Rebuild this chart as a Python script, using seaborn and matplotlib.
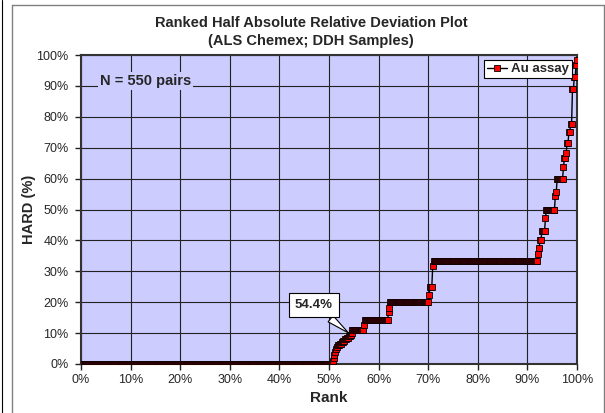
import numpy as np
import pandas as pd
import matplotlib
matplotlib.use("Agg")
import matplotlib.pyplot as plt
from matplotlib.ticker import PercentFormatter, MultipleLocator
from matplotlib.lines import Line2D
import seaborn as sns

hard_levels = [0.0, 1.0, 2.0, 3.0, 4.0, 5.0, 5.5, 6.0, 6.5, 7.0, 7.5, 8.0, 8.5, 9.0, 9.5, 10.0,
               11.1, 12.5, 14.3, 16.7, 18.2, 20.0, 22.2, 25.0, 31.6, 33.3,
               35.7, 37.5, 40.0, 42.9, 47.1, 50.0, 54.5, 55.6, 60.0, 63.6, 66.7, 68.4,
               71.4, 75.0, 77.8, 88.9, 92.9, 96.7, 98.4]
level_counts = [278, 1, 1, 1, 1, 1, 1, 2, 2, 2, 2, 2, 2, 2, 1, 1,
                13, 1, 26, 1, 1, 43, 1, 3, 1, 116,
                1, 1, 2, 4, 1, 10, 1, 1, 7, 1, 2, 1,
                2, 2, 2, 2, 2, 1, 1]
n_pairs = 550
label_idx = 298  # pair marked with the callout (rank 54.4%)

hard = np.repeat(hard_levels, level_counts)
assert len(hard) == n_pairs
rank = np.arange(1, n_pairs + 1) / n_pairs * 100
df = pd.DataFrame({"Rank": rank, "HARD": hard})

sns.set_style("white")
plt.rcParams["font.family"] = ["Liberation Sans", "DejaVu Sans"]

fig = plt.figure(figsize=(6.05, 4.13), dpi=100)
ax = fig.add_axes([81 / 605, 1 - 364 / 413, 496 / 605, 309 / 413])
ax.set_facecolor("#CCCCFF")

sns.lineplot(data=df, x="Rank", y="HARD", ax=ax, color="black", lw=1,
             marker="s", markersize=3.8, markerfacecolor="red",
             markeredgecolor="black", markeredgewidth=0.6, label="Au assay",
             zorder=3)

ax.set_xlim(0, 100)
ax.set_ylim(0, 100)
ax.xaxis.set_major_locator(MultipleLocator(10))
ax.yaxis.set_major_locator(MultipleLocator(10))
ax.xaxis.set_major_formatter(PercentFormatter(100, decimals=0))
ax.yaxis.set_major_formatter(PercentFormatter(100, decimals=0))
ax.grid(True, color="#222222", lw=0.8)
ax.tick_params(axis="both", which="major", direction="out", length=4, width=1,
               color="#222222", labelsize=9, bottom=True, left=True)
ax.tick_params(axis="x", pad=3)
ax.tick_params(axis="y", pad=5)
for s in ax.spines.values():
    s.set_color("#333333")
    s.set_linewidth(1.5)

ax.set_xlabel("Rank", fontsize=11, fontweight="bold", labelpad=4)
ax.set_ylabel("HARD (%)", fontsize=10.5, fontweight="bold", labelpad=0)

fig.text(311 / 605, 1 - 23 / 413, "Ranked Half Absolute Relative Deviation Plot",
         ha="center", va="center", fontsize=10.5, fontweight="bold")
fig.text(311 / 605, 1 - 41 / 413, "(ALS Chemex; DDH Samples)",
         ha="center", va="center", fontsize=10.5, fontweight="bold")

ax.text(0.13, 0.916, f"N = {n_pairs} pairs", transform=ax.transAxes,
        ha="center", va="center", fontsize=10.5, fontweight="bold",
        bbox=dict(boxstyle="square,pad=0.12", fc="#CCCCFF", ec="none"), zorder=4)

ax.annotate(f"{rank[label_idx]:.1f}%", xy=(rank[label_idx], hard[label_idx]),
            xytext=(46.9, 19.2), ha="center", va="center",
            fontsize=9.5, fontweight="bold", zorder=5,
            bbox=dict(boxstyle="square,pad=0.45", fc="white", ec="black", lw=0.8),
            arrowprops=dict(arrowstyle="wedge,tail_width=0.6,shrink_factor=0.5",
                            fc="white", ec="black", lw=0.8, relpos=(0.6, 0.2)))

leg = ax.legend(loc="upper right", bbox_to_anchor=(0.99, 0.985), fancybox=False,
                framealpha=1, edgecolor="black", prop={"weight": "bold", "size": 9.5},
                handlelength=1.5, handletextpad=0.3, borderpad=0.25, borderaxespad=0)
leg.get_frame().set_linewidth(0.8)

# chart area border
fig.add_artist(Line2D([12 / 605, 12 / 605], [0, 1 - 5 / 413], color="#808080", lw=1))
fig.add_artist(Line2D([12 / 605, 604 / 605], [1 - 5 / 413, 1 - 5 / 413], color="#808080", lw=1))
fig.add_artist(Line2D([604 / 605, 604 / 605], [0, 1 - 5 / 413], color="#808080", lw=1))
fig.add_artist(Line2D([1.5 / 605, 1.5 / 605], [0, 1], color="black", lw=0.8))

fig.savefig("out.png", dpi=100)
